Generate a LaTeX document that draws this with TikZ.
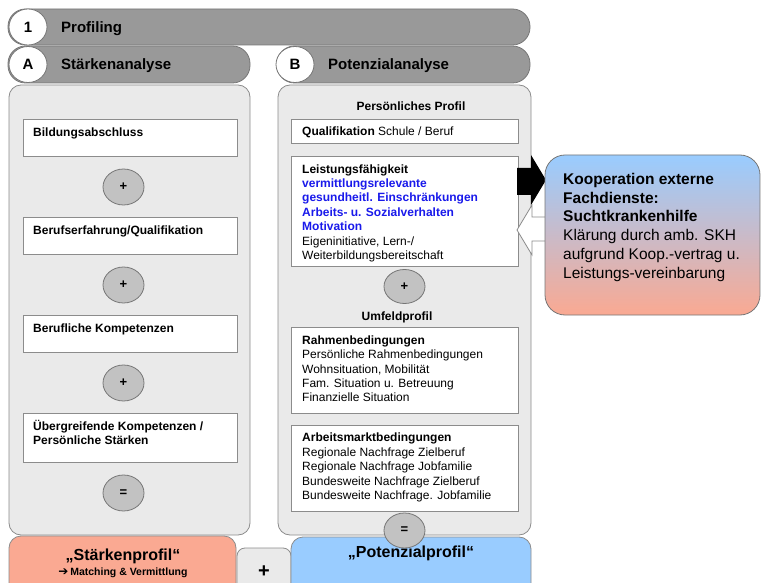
\documentclass[tikz,border=0pt]{standalone}
\usepackage{fontspec}
\setmainfont{Liberation Sans}
\newfontfamily\symfont{DejaVu Sans}
\usetikzlibrary{shapes.geometric,fit}

\definecolor{pillgray}{RGB}{153,153,153}
\definecolor{pillline}{RGB}{118,118,118}
\definecolor{panelfill}{RGB}{234,234,234}
\definecolor{panelline}{RGB}{140,140,140}
\definecolor{circfill}{RGB}{194,194,194}
\definecolor{salmon}{RGB}{250,169,146}
\definecolor{skyblue}{RGB}{153,204,255}
\definecolor{hiblue}{RGB}{25,25,235}
\newcommand\fsz[2]{\fontsize{#1}{#2}\selectfont}
% fixed first-line height so a top-anchored block lands on a known baseline
\newcommand\topstrut[1]{\rule{0pt}{#1}}

\begin{document}
\begin{tikzpicture}[x=1pt,y=-1pt,
  pill/.style={draw=pillline, fill=pillgray, line width=0.8pt, rounded corners=17.5pt, inner sep=0pt},
  badge/.style={ellipse, draw=pillline, fill=white, line width=0.8pt,
    minimum width=38pt, minimum height=36pt, inner sep=0pt, font=\fsz{15}{18}\bfseries},
  head/.style={anchor=base west, inner sep=0pt, font=\fsz{15}{18}\bfseries},
  panel/.style={draw=panelline, fill=panelfill, line width=0.8pt, rounded corners=12pt, inner sep=0pt},
  box/.style={draw=panelline, fill=white, line width=0.8pt, inner sep=0pt},
  op/.style={ellipse, draw=pillline, fill=circfill, line width=0.8pt,
    minimum width=41pt, minimum height=36pt, inner sep=0pt, font=\fsz{13}{14}\bfseries},
  txt/.style={anchor=north west, inner sep=0pt, align=left, font=\fsz{12}{14.4}},
  sub/.style={anchor=base, inner sep=0pt, font=\fsz{12}{14.4}\bfseries},
  result/.style={line width=0.8pt, draw=panelline, rounded corners=12pt, inner sep=0pt}
]
\clip (0,0) rectangle (761,583);

% ---- title bars ----
\node[pill, fit={(8,9) (530,45)}] (profbar) {};
\node[pill, fit={(8,46) (250,83)}] (abar) {};
\node[pill, fit={(277,46) (530,83)}] (bbar) {};
\node[badge] (b1) at (28,27) {1};
\node[badge] (bA) at (28,64.5) {A};
\node[badge] (bB) at (295,64.5) {B};
\node[head] (tprof) at (61,32.5) {Profiling};
\node[head] (tA) at (61,70) {Stärkenanalyse};
\node[head] (tB) at (328,70) {Potenzialanalyse};

% ---- panels ----
\node[panel, fit={(9,85) (250,535)}] (panA) {};
\node[panel, fit={(278,85) (531,535)}] (panB) {};

% ---- Stärkenanalyse column (text blocks: top = first baseline - 11) ----
\node[box, fit={(23,119) (237,156)}] (bild) {};
\node[txt, font=\fsz{12}{14.4}\bfseries] (tbild) at (33,125) {\topstrut{11pt}Bildungsabschluss};
\node[op] (opA1) at (123.5,187) {+};
\node[box, fit={(23,217) (237,254)}] (beruf) {};
\node[txt, font=\fsz{12}{14.4}\bfseries] (tberuf) at (33,223) {\topstrut{11pt}Berufserfahrung/Qualifikation};
\node[op] (opA2) at (123.5,285) {+};
\node[box, fit={(23,315) (237,352)}] (komp) {};
\node[txt, font=\fsz{12}{14.4}\bfseries] (tkomp) at (33,321) {\topstrut{11pt}Berufliche Kompetenzen};
\node[op] (opA3) at (123.5,383) {+};
\node[box, fit={(23,413) (237,462)}] (ueber) {};
\node[txt, font=\fsz{12}{14.4}\bfseries] (tueber) at (33,419) {\topstrut{11pt}Übergreifende Kompetenzen /\\Persönliche Stärken};
\node[op] (opA4) at (123.5,493) {=};

% ---- Potenzialanalyse column ----
\node[sub] (tpers) at (411,110.7) {Persönliches Profil};
\node[box, fit={(291,119) (518,143)}] (quali) {};
\node[txt] (tquali) at (302,124.7) {\topstrut{11pt}\textbf{Qualifikation} Schule / Beruf};
\node[box, fit={(291,156) (518,266)}] (leist) {};
\node[txt] (tleist) at (302,162) {\topstrut{11pt}\textbf{Leistungsfähigkeit}\\
  \textcolor{hiblue}{\textbf{vermittlungsrelevante}}\\
  \textcolor{hiblue}{\textbf{gesundheitl. Einschränkungen}}\\
  \textcolor{hiblue}{\textbf{Arbeits- u. Sozialverhalten}}\\
  \textcolor{hiblue}{\textbf{Motivation}}\\
  Eigeninitiative, Lern-/\\
  Weiterbildungsbereitschaft};
\node[op, minimum height=34pt] (opB1) at (404.5,286.5) {+};
\node[sub] (tumf) at (397,320) {Umfeldprofil};
\node[box, fit={(291,327) (518,413)}] (rahmen) {};
\node[txt] (trahmen) at (302,333) {\topstrut{11pt}\textbf{Rahmenbedingungen}\\
  Persönliche Rahmenbedingungen\\
  Wohnsituation, Mobilität\\
  Fam. Situation u. Betreuung\\
  Finanzielle Situation};
\node[box, fit={(291,425) (518,511)}] (markt) {};
\node[txt] (tmarkt) at (302,430.7) {\topstrut{11pt}\textbf{Arbeitsmarktbedingungen}\\
  Regionale Nachfrage Zielberuf\\
  Regionale Nachfrage Jobfamilie\\
  Bundesweite Nachfrage Zielberuf\\
  Bundesweite Nachfrage. Jobfamilie};

% ---- results ----
\node[result, fill=panelfill, rounded corners=8pt, fit={(237,548) (291,600)}] (plusbox) {};
\node[anchor=center, inner sep=0pt, font=\fsz{20}{22}\bfseries] (tplus) at (264,572) {+};
\node[result, fill=salmon, fit={(9,536) (236,600)}] (staerk) {};
\node[anchor=base, inner sep=0pt, font=\fsz{16}{18}\bfseries] (tstaerk) at (123,560) {„Stärkenprofil“};
\node[anchor=base, inner sep=0pt, font=\fsz{10.5}{12}\bfseries] (tmatch) at (123,575)
  {{\symfont\bfseries\fsz{12}{12}➔}\,Matching \& Vermittlung};
\node[result, fill=skyblue, fit={(291,537) (531,600)}] (potenz) {};
\node[anchor=base, inner sep=0pt, font=\fsz{16}{18}\bfseries] (tpotenz) at (411,557) {„Potenzialprofil“};
\node[op, minimum height=35pt] (opB2) at (404.5,530.5) {=};

% ---- block arrows between Leistungsfähigkeit and the cooperation box ----
\fill[black] (517,168) -- (531,168) -- (531,155) -- (546,180) -- (531,205)
  -- (531,195) -- (517,195) -- cycle;
\draw[panelline, line width=0.8pt, fill=white] (517,230) -- (532,205) -- (532,217)
  -- (547,217) -- (547,241) -- (532,241) -- (532,255) -- cycle;

% ---- cooperation box ----
\node[draw=pillline, line width=0.8pt, rounded corners=20pt, inner sep=0pt,
  top color=skyblue, bottom color=salmon, fit={(545,155) (760,315)}] (koop) {};
\node[anchor=north west, inner sep=0pt, align=left, font=\fsz{15.5}{18.8}] (tkoop) at (563,170)
  {\topstrut{14pt}\textbf{Kooperation externe}\\
   \textbf{Fachdienste:}\\
   \textbf{Suchtkrankenhilfe}\\
   Klärung durch amb. SKH\\
   aufgrund Koop.-vertrag u.\\
   Leistungs-vereinbarung};
\end{tikzpicture}
\end{document}
